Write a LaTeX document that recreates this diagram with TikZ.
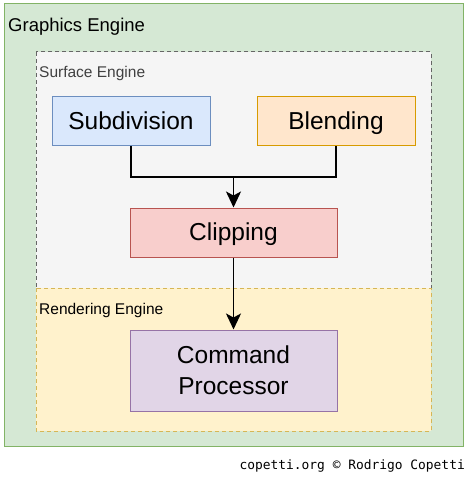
\documentclass[tikz,border=0pt]{standalone}
\usepackage{fontspec}
\setmainfont{Liberation Sans}
\newfontfamily\footfont{DejaVu Sans Mono}
\usetikzlibrary{arrows.meta}
\definecolor{gfill}{HTML}{D5E8D4}\definecolor{gline}{HTML}{82B366}
\definecolor{sfill}{HTML}{F5F5F5}\definecolor{sline}{HTML}{666666}
\definecolor{rfill}{HTML}{FFF2CC}\definecolor{rline}{HTML}{D6B656}
\definecolor{bfill}{HTML}{DAE8FC}\definecolor{bline}{HTML}{6C8EBF}
\definecolor{ofill}{HTML}{FFE6CC}\definecolor{oline}{HTML}{D79B00}
\definecolor{cfill}{HTML}{F8CECC}\definecolor{cline}{HTML}{B85450}
\definecolor{pfill}{HTML}{E1D5E7}\definecolor{pline}{HTML}{9673A6}
\tikzset{
  blockbox/.style={draw, line width=1pt, inner sep=0pt, font=\fontsize{24.5}{31}\selectfont, align=center},
  onelinetext/.style={text height=21pt, text depth=5pt},
  grouplabel/.style={anchor=base west, inner sep=0pt},
  conn/.style={line width=1.7pt, -{Stealth[length=16pt,width=15pt,inset=4pt]}},
  plainconn/.style={line width=1.7pt}
}
\begin{document}
\begin{tikzpicture}[x=1pt,y=-1pt]
\useasboundingbox (0,0) rectangle (468,478);
\fill[white] (0,0) rectangle (468,478);
\draw[fill=gfill, draw=gline, line width=1pt] (4,4) rectangle (463,446);
\node[grouplabel, font=\fontsize{18.5}{22}\selectfont, text=black] (ge) at (8,32) {Graphics Engine};
\draw[fill=sfill, draw=sline, line width=1pt, dash pattern=on 4pt off 3pt] (36,52) rectangle (431,288);
\draw[fill=rfill, draw=rline, line width=1pt, dash pattern=on 4pt off 3pt] (36,288) rectangle (431,431);
\node[grouplabel, font=\fontsize{15.5}{18}\selectfont, text=black!75] (se) at (39,78) {Surface Engine};
\node[grouplabel, font=\fontsize{15.5}{18}\selectfont, text=black] (re) at (39,314) {Rendering Engine};
\node[blockbox, onelinetext, fill=bfill, draw=bline, minimum width=158pt, minimum height=49pt] (sub) at (131,121.5) {Subdivision};
\node[blockbox, onelinetext, fill=ofill, draw=oline, minimum width=158pt, minimum height=49pt] (ble) at (336,121.5) {Blending};
\node[blockbox, onelinetext, fill=cfill, draw=cline, minimum width=207pt, minimum height=49pt] (cli) at (233.5,232.5) {Clipping};
\node[blockbox, fill=pfill, draw=pline, minimum width=207pt, minimum height=81pt] (cmd) at (233.5,370.5) {Command\\Processor};
\coordinate (join) at (233.5,177);
\draw[plainconn] (sub.south) |- (join);
\draw[plainconn] (ble.south) |- (join);
\draw[conn] (join) -- (cli.north);
\draw[conn] (cli.south) -- (cmd.north);
\node[anchor=base east, inner sep=0pt, font=\footfont\fontsize{12.9}{15}\selectfont] (foot) at (465,469) {copetti.org © Rodrigo Copetti};
\end{tikzpicture}
\end{document}
